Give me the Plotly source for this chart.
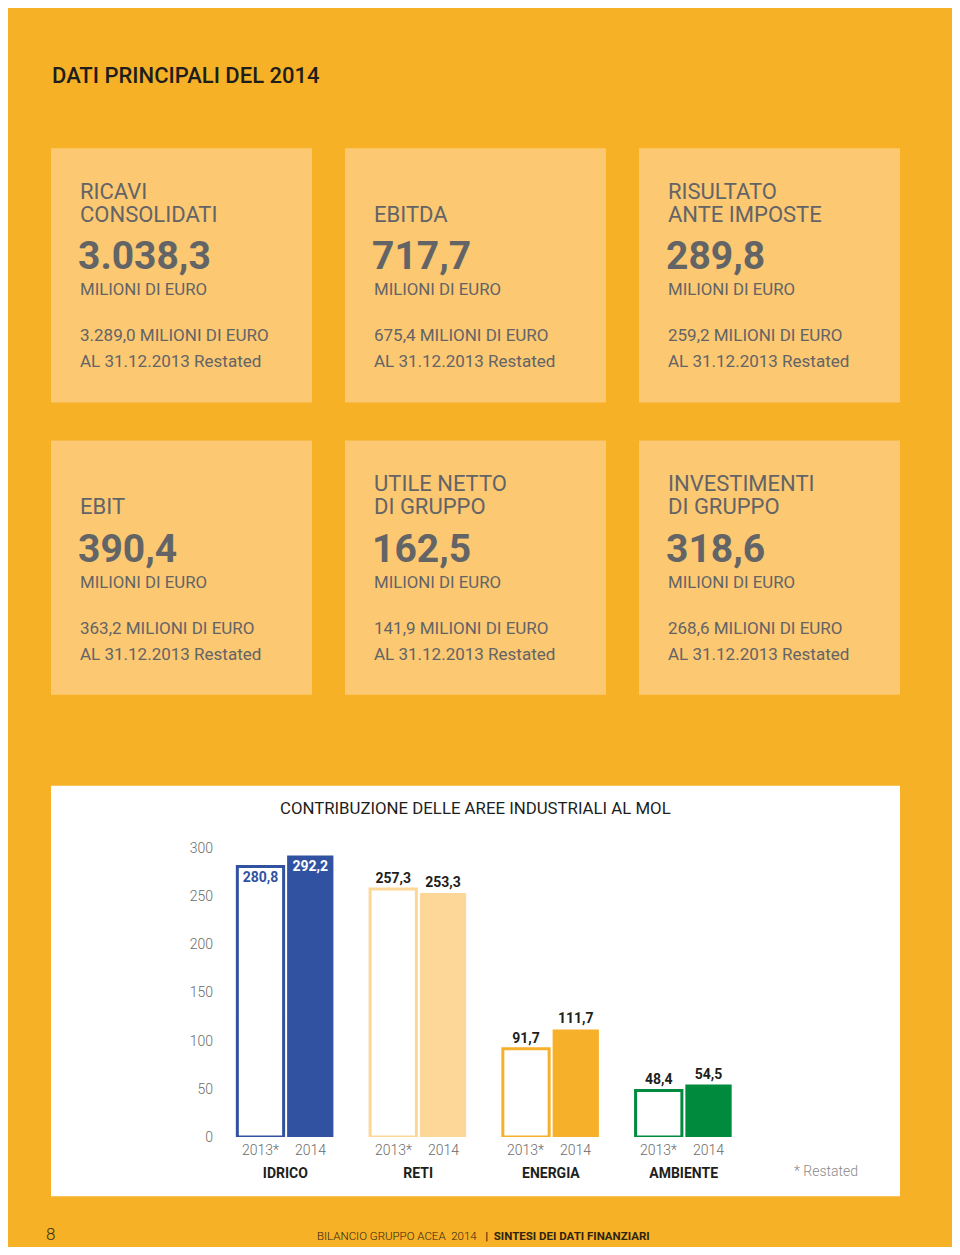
import plotly.graph_objects as go

# page body margin compensation (calibrated from rendering)
OFF = 8
W, H = 960 - 2 * OFF, 1255 - 2 * OFF
Y_A, Y_S = 7.9, 0.9863

# ---------------- data ----------------
kpi_titles = [["RICAVI", "CONSOLIDATI"], ["EBITDA"], ["RISULTATO", "ANTE IMPOSTE"],
              ["EBIT"], ["UTILE NETTO", "DI GRUPPO"], ["INVESTIMENTI", "DI GRUPPO"]]
kpi_2014 = [3038.3, 717.7, 289.8, 390.4, 162.5, 318.6]
kpi_2013 = [3289.0, 675.4, 259.2, 363.2, 141.9, 268.6]

areas = ["IDRICO", "RETI", "ENERGIA", "AMBIENTE"]
mol_2013 = [280.8, 257.3, 91.7, 48.4]
mol_2014 = [292.2, 253.3, 111.7, 54.5]
year_labels = ["2013*", "2014"]
area_colors = ["#3152A1", "#FCD797", "#F6B02A", "#008A3D"]
y_ticks = [0, 50, 100, 150, 200, 250, 300]

# ---------------- styles ----------------
BG = "#F7B126"
CARD = "#FCC872"
GREY = "#636466"
DARK = "#1E1E1C"
FONT = "Roboto"


def fmt_it(v):
    s = f"{v:,.1f}"
    return s.replace(",", "X").replace(".", ",").replace("X", ".")


def py(ypx):
    y_in = (ypx - Y_A) / Y_S
    return 1 - (y_in - OFF) / H


def px(xpx):
    return (xpx - OFF) / W


fig = go.Figure()

text_pos = ["inside", "outside", "outside", "outside"]
text_col_2013 = [area_colors[0], DARK, DARK, DARK]
text_col_2014 = ["white", DARK, DARK, DARK]

fig.add_trace(go.Bar(
    name=year_labels[0], x=areas, y=mol_2013,
    marker=dict(color="white", line=dict(color=area_colors, width=3)),
    text=[fmt_it(v) for v in mol_2013], textposition=text_pos,
    insidetextanchor="end", constraintext="none",
    textfont=dict(family=FONT, size=14, color=text_col_2013, weight="bold"),
    cliponaxis=False, hoverinfo="skip",
))
fig.add_trace(go.Bar(
    name=year_labels[1], x=areas, y=mol_2014,
    marker=dict(color=area_colors, line=dict(width=0)),
    text=[fmt_it(v) for v in mol_2014], textposition=text_pos,
    insidetextanchor="end", constraintext="none",
    textfont=dict(family=FONT, size=14, color=text_col_2014, weight="bold"),
    cliponaxis=False, hoverinfo="skip",
))

bargap = 0.25
shapes = []
annotations = []

# page header
annotations.append(dict(text="DATI PRINCIPALI DEL 2014", xref="paper", yref="paper",
                        x=px(50), y=py(75), xanchor="left", yanchor="middle", showarrow=False,
                        font=dict(family=FONT, size=22, color=DARK, weight=500)))

# KPI cards
col_left = [51, 345, 639]
row_top = [148, 440]
card_w, card_h = 261, 254
for i, title in enumerate(kpi_titles):
    cx = col_left[i % 3]
    cy = row_top[i // 3]
    shapes.append(dict(type="rect", xref="paper", yref="paper", layer="below",
                       x0=px(cx), x1=px(cx + card_w), y0=py(cy + card_h), y1=py(cy),
                       fillcolor=CARD, line=dict(width=0)))
    tx = px(cx + 27)
    lines = title if len(title) == 2 else [""] + title
    for k, ln in enumerate(lines):
        if ln:
            annotations.append(dict(text=ln, xref="paper", yref="paper", x=tx,
                                    y=py(cy + 43 + 23 * k), xanchor="left", yanchor="middle",
                                    showarrow=False,
                                    font=dict(family=FONT, size=22, color=GREY, weight=400)))
    annotations.append(dict(text=fmt_it(kpi_2014[i]), xref="paper", yref="paper", x=px(cx + 25),
                            y=py(cy + 108), xanchor="left", yanchor="middle", showarrow=False,
                            font=dict(family=FONT, size=39, color=GREY, weight="bold")))
    annotations.append(dict(text="MILIONI DI EURO", xref="paper", yref="paper", x=tx,
                            y=py(cy + 141), xanchor="left", yanchor="middle", showarrow=False,
                            font=dict(family=FONT, size=16.8, color=GREY)))
    annotations.append(dict(text=f"{fmt_it(kpi_2013[i])} MILIONI DI EURO", xref="paper",
                            yref="paper", x=tx, y=py(cy + 187), xanchor="left",
                            yanchor="middle", showarrow=False,
                            font=dict(family=FONT, size=17, color=GREY)))
    annotations.append(dict(text="AL 31.12.2013 Restated", xref="paper", yref="paper", x=tx,
                            y=py(cy + 213), xanchor="left", yanchor="middle", showarrow=False,
                            font=dict(family=FONT, size=17, color=GREY)))

# chart box
shapes.append(dict(type="rect", xref="paper", yref="paper", layer="below",
                   x0=px(51), x1=px(900), y0=py(1195), y1=py(785),
                   fillcolor="white", line=dict(width=0)))
annotations.append(dict(text="CONTRIBUZIONE DELLE AREE INDUSTRIALI AL MOL", xref="paper",
                        yref="paper", x=px(475), y=py(807), xanchor="center", yanchor="middle",
                        showarrow=False, font=dict(family=FONT, size=16.8, color=DARK)))

# year labels under each bar
off = (1 - bargap) / 4
for i, a in enumerate(areas):
    for j, lab in enumerate(year_labels):
        annotations.append(dict(text=lab, xref="x", yref="y", x=i + (-off if j == 0 else off),
                                y=0, yanchor="top", yshift=-3, showarrow=False,
                                font=dict(family=FONT, size=14, color="#6B6B6B", weight=300)))
annotations.append(dict(text="* Restated", xref="paper", yref="paper", x=px(860), y=py(1170),
                        xanchor="right", yanchor="middle", showarrow=False,
                        font=dict(family=FONT, size=14, color="#8A8A8A", weight=300)))

# footer
annotations.append(dict(text="8", xref="paper", yref="paper", x=px(44), y=py(1233),
                        xanchor="left", yanchor="middle", showarrow=False,
                        font=dict(family=FONT, size=17, color="#3A2C10", weight=300)))
annotations.append(dict(text="BILANCIO GRUPPO ACEA  2014  <b> |  SINTESI DEI DATI FINANZIARI</b>",
                        xref="paper", yref="paper", x=px(315), y=py(1235), xanchor="left",
                        yanchor="middle", showarrow=False,
                        font=dict(family=FONT, size=11.5, color="#2E2410", weight=300)))

fig.update_layout(
    width=W, height=H, margin=dict(l=0, r=0, t=0, b=0),
    paper_bgcolor=BG, plot_bgcolor="rgba(0,0,0,0)",
    barmode="group", bargap=bargap, bargroupgap=0.07,
    showlegend=False, shapes=shapes, annotations=annotations,
    font=dict(family=FONT),
    xaxis=dict(domain=[px(219), px(750)], range=[-0.5, 3.5], showgrid=False, zeroline=False,
               showline=False, ticks="", ticklabelstandoff=26,
               tickfont=dict(family=FONT, size=14, color=DARK, weight="bold")),
    yaxis=dict(domain=[py(1136), py(847)], range=[0, 300], tickvals=y_ticks,
               showgrid=False, zeroline=False, showline=False, ticks="", ticklabelstandoff=5,
               tickfont=dict(family=FONT, size=14, color="#6B6B6B", weight=300)),
)

fig.write_html("out.html")
